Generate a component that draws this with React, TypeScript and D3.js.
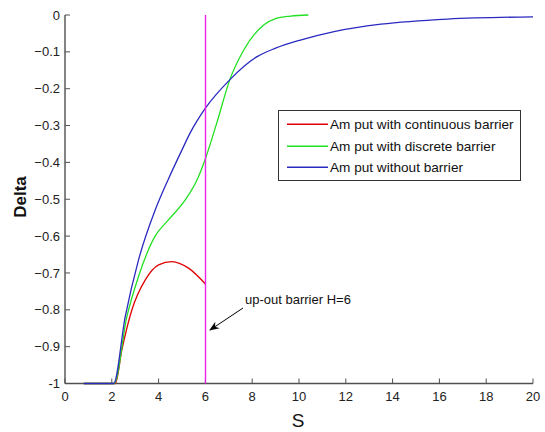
import React from "react";
import * as d3 from "d3";

const xTicks = [0, 2, 4, 6, 8, 10, 12, 14, 16, 18, 20];
const yTicks = [0, -0.1, -0.2, -0.3, -0.4, -0.5, -0.6, -0.7, -0.8, -0.9, -1];

const redS = [0.8, 2.15, 2.43, 2.86, 3.43, 4.0, 4.57, 5.28, 6.0];
const redD = [-1, -1, -0.909, -0.8, -0.719, -0.678, -0.669, -0.687, -0.73];

const greenS = [0.8, 2.1, 2.64, 3.14, 3.85, 4.42, 5.14, 5.64, 6.0, 6.5, 7.04, 7.64, 8.49, 9.0, 9.64, 10.4];
const greenD = [-1, -1, -0.82, -0.71, -0.6, -0.556, -0.502, -0.448, -0.39, -0.29, -0.176, -0.095, -0.027, -0.01, -0.003, 0];

const blueS = [0.8, 2.08, 2.57, 3.14, 3.85, 4.42, 5.0, 5.35, 6.0, 7.04, 8.21, 9.0, 10.06, 11.5, 13.5, 16.35, 20];
const blueD = [-1, -1, -0.82, -0.665, -0.53, -0.445, -0.366, -0.32, -0.253, -0.176, -0.113, -0.09, -0.068, -0.045, -0.025, -0.011, -0.005];

const legendLabels = [
  "Am put with continuous barrier",
  "Am put with discrete barrier",
  "Am put without barrier",
];
const colors = ["#e00000", "#22e022", "#2a2ac0"];
const barrier = 6;
const annotation = "up-out barrier H=6";

export default function App() {
  const W = 545, H = 432;
  const x = d3.scaleLinear().domain([0, 20]).range([65, 533]);
  const y = d3.scaleLinear().domain([0, -1]).range([15, 383.5]);
  const line = d3
    .line<[number, number]>()
    .x((d) => x(d[0]))
    .y((d) => y(d[1]))
    .curve(d3.curveMonotoneX);
  const series = [
    redS.map((s, i) => [s, redD[i]] as [number, number]),
    greenS.map((s, i) => [s, greenD[i]] as [number, number]),
    blueS.map((s, i) => [s, blueD[i]] as [number, number]),
  ];
  const axisColor = "#505050";
  const font = "'Liberation Sans', Arial, sans-serif";
  const rowY = (i: number) => Math.round(124 + i * 21.5);
  return (
    <svg
      width={W}
      height={H}
      style={{ position: "absolute", left: 0, top: 0, background: "#fff" }}
      fontFamily={font}
    >
      <defs>
        <marker id="arr" viewBox="0 0 10 10" refX="9" refY="5" markerWidth="10" markerHeight="10" orient="auto" markerUnits="userSpaceOnUse">
          <path d="M0,1 L10,5 L0,9 L3,5 Z" fill="#000" />
        </marker>
      </defs>
      {/* axes */}
      <line x1={x(0)} x2={x(0)} y1={y(0)} y2={y(-1)} stroke={axisColor} strokeWidth={1.4} />
      <line x1={x(0)} x2={x(20)} y1={y(-1)} y2={y(-1)} stroke={axisColor} strokeWidth={1.4} />
      {yTicks.map((t) => (
        <g key={"y" + t}>
          <line x1={x(0)} x2={x(0) + 5} y1={y(t)} y2={y(t)} stroke={axisColor} />
          <text x={x(0) - 5} y={y(t)} dy="0.35em" textAnchor="end" fontSize={13} fill="#222">
            {t === 0 ? "0" : t === -1 ? "-1" : d3.format(".1f")(t)}
          </text>
        </g>
      ))}
      {xTicks.map((t) => (
        <g key={"x" + t}>
          <line x1={x(t)} x2={x(t)} y1={y(-1)} y2={y(-1) - 5} stroke={axisColor} />
          <text x={x(t)} y={y(-1) + 17} textAnchor="middle" fontSize={13} fill="#222">
            {t}
          </text>
        </g>
      ))}
      {/* curves */}
      {series.map((pts, i) => (
        <path key={i} d={line(pts) || ""} fill="none" stroke={colors[i]} strokeWidth={1.3} />
      ))}
      {/* barrier line */}
      <line x1={Math.round(x(barrier)) + 0.5} x2={Math.round(x(barrier)) + 0.5} y1={y(0)} y2={y(-1)} stroke="#ee22ee" strokeWidth={1.4} />
      <text x={298} y={427} textAnchor="middle" fontSize={19} fill="#111">S</text>
      <text
        transform={`translate(26,197) rotate(-90)`}
        textAnchor="middle"
        fontSize={17}
        fontWeight="bold"
        fill="#111"
      >
        Delta
      </text>
      {/* legend */}
      <rect x={278.5} y={110.5} width={242} height={70} fill="#fff" stroke="#333" strokeWidth={1} />
      {legendLabels.map((l, i) => (
        <g key={l}>
          <rect x={287} y={rowY(i) - 0.5} width={41} height={1.5} fill={colors[i]} />
          <text x={330} y={rowY(i)} dy="0.35em" fontSize={13.6} fill="#111">{l}</text>
        </g>
      ))}
      {/* annotation */}
      <text x={245} y={304} fontSize={13} fill="#111">{annotation}</text>
      <line x1={243} y1={308} x2={210} y2={330} stroke="#000" strokeWidth={1} markerEnd="url(#arr)" />
    </svg>
  );
}
